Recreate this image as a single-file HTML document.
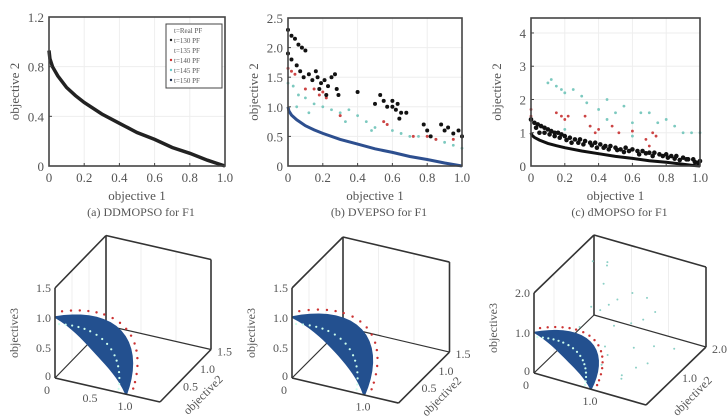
<!DOCTYPE html>
<html><head><meta charset="utf-8">
<style>
html,body{margin:0;padding:0;background:#fff;}
svg{display:block;font-family:"Liberation Serif",serif;}
text{fill:#555;}
</style></head>
<body>
<svg id="fig" width="728" height="417" viewBox="0 0 728 417"></svg>
<script>
// ---- data ----
const pfX=[0,0.005,0.02,0.05,0.1,0.15,0.2,0.3,0.4,0.5,0.6,0.7,0.8,0.9,0.95,1.0];
const pfY=[1,0.93,0.86,0.78,0.68,0.61,0.55,0.45,0.37,0.29,0.23,0.16,0.11,0.05,0.025,0];
const xTicks=["0","0.2","0.4","0.6","0.8","1.0"];
const aYTicks=[0,0.4,0.8,1.2];
const bYTicks=[0,0.5,1.0,1.5,2.0,2.5];
const cYTicks=[0,1,2,3,4];
const bBlackX=[0,0.02,0.04,0.06,0.08,0.1,0,0.02,0.05,0.07,0.09,0.12,0.14,0.16,0.17,0.19,0.21,0.23,0.25,0.27,0.28,0.29,0.4,0.5,0.53,0.55,0.57,0.6,0.62,0.63,0.65,0.64,0.68,0.78,0.8,0.82,0.88,0.9,0.92,0.95,0.98,1.0,0.18,0.22,0.6];
const bBlackY=[2.3,2.2,2.15,2.05,2.0,1.95,1.9,1.8,1.7,1.6,1.5,1.55,1.45,1.6,1.5,1.4,1.45,1.35,1.5,1.55,1.3,1.2,1.25,1.05,1.2,1.1,1.0,1.1,0.95,1.05,0.9,0.8,0.9,0.7,0.6,0.5,0.7,0.6,0.65,0.55,0.6,0.5,1.3,1.2,1.0];
const bRedX=[0,0.02,0.04,0.1,0.15,0.18,0.2,0.22,0.3,0.55,0.57,0.72,0.8,0.85,0.95];
const bRedY=[1.65,1.6,1.55,1.3,1.3,1.2,1.25,1.15,0.85,0.75,0.7,0.5,0.5,0.45,0.45];
const bCyanX=[0,0.03,0.06,0.1,0.15,0.2,0.25,0.3,0.35,0.4,0.45,0.5,0.6,0.65,0.7,0.75,0.85,0.9,0.95,1.0,0.05,0.12,0.33,0.48];
const bCyanY=[1.4,1.35,1.2,1.15,1.05,1.0,0.95,0.9,0.95,0.85,0.75,0.65,0.6,0.55,0.5,0.5,0.45,0.4,0.35,0.3,1.0,0.9,0.75,0.6];
const cCyanX=[0.1,0.12,0.15,0.18,0.2,0.25,0.3,0.33,0.4,0.45,0.5,0.55,0.6,0.65,0.7,0.75,0.8,0.85,0.9,0.95,1.0,0.35,0.45,0.2,0.6];
const cCyanY=[2.5,2.6,2.4,2.3,2.2,2.3,2.1,1.9,1.7,2.0,1.6,1.8,1.3,1.6,1.6,1.3,1.4,1.2,1.0,1.0,1.0,1.2,1.4,1.1,0.9];
const cRedX=[0,0,0.15,0.18,0.2,0.22,0.32,0.35,0.38,0.4,0.48,0.52,0.6,0.68,0.72,0.74,0.7];
const cRedY=[1.7,1.5,1.6,1.5,1.4,1.5,1.5,1.2,1.0,1.1,1.2,1.0,1.05,0.8,1.0,0.9,0.6];
const cBlackX=[0,0.02,0.04,0.06,0.08,0.1,0.12,0.14,0.16,0.18,0.2,0.23,0.26,0.29,0.32,0.35,0.38,0.41,0.44,0.47,0.5,0.53,0.56,0.6,0.63,0.66,0.7,0.73,0.76,0.8,0.83,0.86,0.9,0.93,0.96,1.0,0.05,0.11,0.17,0.24,0.31,0.39,0.46,0.55,0.64,0.72,0.81,0.88,0.97,0.03,0.08,0.14,0.21,0.28,0.36,0.43,0.51,0.58,0.68,0.78,0.85,0.92,0.99];
const cBlackY=[1.4,1.3,1.25,1.2,1.15,1.1,1.05,1.0,1.0,0.95,0.9,0.85,0.8,0.8,0.75,0.7,0.7,0.65,0.6,0.6,0.55,0.5,0.55,0.5,0.45,0.45,0.4,0.4,0.35,0.35,0.3,0.3,0.25,0.2,0.2,0.15,1.0,0.95,0.85,0.7,0.65,0.55,0.5,0.42,0.35,0.3,0.25,0.18,0.12,1.15,1.0,0.9,0.78,0.7,0.62,0.55,0.48,0.45,0.38,0.3,0.22,0.2,0.1];
const redAng=[3,8,13,18,23,28,34,40,46,52,58,63,68,73,78,83,87];
const cCyan3X=[0.6,0.8,1.0,1.2,0.9,1.1,1.3,1.5,0.7,1.4,1.6,1.2,0.5,0.4,0.3,1.7,1.0,1.3,0.8,1.1,0.6,1.5,0.9,1.2,0.7,1.0];
const cCyan3Y=[1.2,1.0,0.8,1.4,1.6,0.4,0.9,1.2,0.6,0.3,0.8,1.8,1.5,1.7,1.4,1.5,1.9,0.5,0.3,0.2,0.4,0.6,1.1,1.0,0.9,0.5];
const cCyan3Z=[1.6,1.3,1.0,0.8,1.2,0.6,0.5,0.4,1.5,0.2,0.3,0.7,1.8,1.7,1.9,0.2,0.9,0.1,0.9,0.5,1.1,0.3,1.4,1.0,1.2,0.7];

const NS='http://www.w3.org/2000/svg';
const svg=document.getElementById('fig');
function el(tag,attrs,parent){const e=document.createElementNS(NS,tag);for(const k in attrs)e.setAttribute(k,attrs[k]);(parent||svg).appendChild(e);return e;}
function txt(s,x,y,size,anchor,parent,rot){const t=el('text',{x:x,y:y,'font-size':size,'text-anchor':anchor||'middle'},parent);if(rot)t.setAttribute('transform','rotate(-90 '+x+' '+y+')');t.textContent=s;return t;}

function panel2d(cfg){
  const g=el('g',{});
  
  
  const sx=v=>cfg.x0+(cfg.x1-cfg.x0)*v;
  const sy=v=>cfg.y1-(cfg.y1-cfg.y0)*v/cfg.ymax;
  for(let i=1;i<5;i++){el('line',{x1:sx(i/5),x2:sx(i/5),y1:cfg.y0,y2:cfg.y1,stroke:'#eee','stroke-width':1},g);}
  cfg.yt.forEach(v=>{el('line',{x1:cfg.x0,x2:cfg.x1,y1:sy(v),y2:sy(v),stroke:'#eee'},g);});
  (cfg.sets||[]).forEach(s=>{for(let i=0;i<s.x.length;i++){const c=el('circle',{cx:sx(s.x[i]),cy:sy(s.y[i]),r:s.r,fill:s.c},g);}});
  const d=pfX.map((v,i)=>(i?'L':'M')+sx(v).toFixed(1)+','+sy(pfY[i]*cfg.pfs).toFixed(1)).join('');
  const p=el('path',{d:d,fill:'none',stroke:cfg.pfc,'stroke-width':cfg.pfw},g);
  
  
  (cfg.after||[]).forEach(s=>{for(let i=0;i<s.x.length;i++){const c=el('circle',{cx:sx(s.x[i]),cy:sy(s.y[i]),r:s.r,fill:s.c},g);}});
  el('rect',{x:cfg.x0,y:cfg.top,width:cfg.x1-cfg.x0,height:cfg.y1-cfg.top,fill:'none',stroke:'#444','stroke-width':1.6},g);
  xTicks.forEach((t,i)=>{const x=sx(i/5);el('line',{x1:x,x2:x,y1:cfg.y1,y2:cfg.y1-3,stroke:'#444'},g);txt(t,x,cfg.y1+16,13,'middle',g);});
  cfg.yt.forEach((v,i)=>{el('line',{x1:cfg.x0,x2:cfg.x0+3,y1:sy(v),y2:sy(v),stroke:'#444'},g);txt(cfg.ytl[i],cfg.x0-5,sy(v)+5,13,'end',g);});
  const xt=txt('objective 1',(cfg.x0+cfg.x1)/2,cfg.y1+34,13,'middle',g);
  const yt=txt('objective 2',cfg.x0-30,(cfg.y0+cfg.y1)/2,13,'middle',g,true);
  const cap=txt(cfg.cap,(cfg.x0+cfg.x1)/2+4,216,12,'middle',g);
  return g;
}
panel2d({name:'panel-a-ddmopso',x0:49,x1:225,y0:17,y1:166,top:17,ymax:1.2,yt:aYTicks,ytl:['0','0.4','0.8','1.2'],pfc:'#222',pfw:3.5,pfs:0.93,cap:'(a)  DDMOPSO for F1'});
const lg=el('g',{});
el('rect',{x:166,y:24,width:56,height:64,fill:'#fff',stroke:'#444','stroke-width':1},lg);
['t=Real PF','t=130 PF','t=135 PF','t=140 PF','t=145 PF','t=150 PF'].forEach((s,i)=>{
  el('circle',{cx:171,cy:30+i*10,r:1.2,fill:['#fff','#222','#fff','#c33','#6cc','#235'][i]},lg);
  const t=txt(s,174,33+i*10,7,'start',lg);
});
panel2d({name:'panel-b-dvepso',x0:288,x1:462,y0:18,y1:166,top:18,ymax:2.5,yt:bYTicks,ytl:['0','0.5','1.0','1.5','2.0','2.5'],pfc:'#2d4f8f',pfw:3,pfs:1.0,cap:'(b)  DVEPSO for F1',
  sets:[{x:bCyanX,y:bCyanY,c:'#7cc9bf',r:1.4,n:'t140-point'},{x:bRedX,y:bRedY,c:'#c44',r:1.5,n:'t135-point'},{x:bBlackX,y:bBlackY,c:'#111',r:2,n:'t130-point'}]});
panel2d({name:'panel-c-dmopso',x0:531,x1:700,y0:18,y1:166,top:18,ymax:4.45,yt:cYTicks,ytl:['0','1','2','3','4'],pfc:'#111',pfw:3,pfs:1.0,cap:'(c)  dMOPSO for F1',
  sets:[{x:cCyanX,y:cCyanY,c:'#7cc9bf',r:1.4,n:'t140-point'},{x:cRedX,y:cRedY,c:'#c44',r:1.4,n:'t135-point'}],
  after:[{x:cBlackX,y:cBlackY,c:'#111',r:2.3,n:'t130-point'}]});

function panel3d(c){
  const g=el('g',{});
  
  
  const P=(x,y,z)=>[c.ox+c.ex[0]*x+c.ey[0]*y,c.oy+c.ex[1]*x+c.ey[1]*y+c.ez*z];
  const L=(a,b,w,col)=>el('line',{x1:a[0],y1:a[1],x2:b[0],y2:b[1],stroke:col||'#333','stroke-width':w||1.6},g);
  const m=c.m;
  for(let i=1;i<3;i++){L(P(0,m*i/3,0),P(0,m*i/3,m),0.6,'#e4e4e4');L(P(m*i/3,m,0),P(m*i/3,m,m),0.6,'#e4e4e4');}
  L(P(0,m,0),P(0,m,m));L(P(0,m,m),P(m,m,m));L(P(m,m,m),P(m,m,0));
  L(P(0,m,0),P(m,m,0),1.2);L(P(0,m,0),P(0,0,0),1.2);
  if(c.cyan){for(let i=0;i<cCyan3X.length;i++){const q=P(cCyan3X[i],cCyan3Y[i],cCyan3Z[i]);const d=el('circle',{cx:q[0],cy:q[1],r:1,fill:'#8cd0c6'},g);}}
  const outer=[],inner=[];
  for(let a=0;a<=90;a+=5){const t=a*Math.PI/180;const s2=Math.sin(2*t);const ro=1.03+c.th*s2;const ri=1-c.in*s2;
    outer.push(P(ro*Math.sin(t),c.k*s2,ro*Math.cos(t)));inner.push(P(ri*Math.sin(t),0,ri*Math.cos(t)));}
  const d='M'+outer.map(p=>p.join(',')).join('L')+'L'+inner.reverse().map(p=>p.join(',')).join('L')+'Z';
  const band=el('path',{d:d,fill:'#23508f'},g);
  
  
  redAng.forEach(a=>{const t=a*Math.PI/180;const s2=Math.sin(2*t);const r=1.07+c.th*s2;const q=P(r*Math.sin(t),c.k*s2+0.05,r*Math.cos(t));const d=el('circle',{cx:q[0],cy:q[1],r:1.2,fill:'#c33'},g);
    const q2=P(0.9*Math.sin(t),c.k*s2*0.5,0.9*Math.cos(t));el('circle',{cx:q2[0],cy:q2[1],r:1.1,fill:'#cfe'},g);});
  L(P(0,0,0),P(0,0,m));L(P(0,0,m),P(0,m,m));L(P(0,0,0),P(m,0,0));L(P(m,0,0),P(m,m,0));
  c.zt.forEach(v=>{const q=P(0,0,v);txt(v.toFixed(1),q[0]-4,q[1]+4,12,'end',g);});
  const z0=P(0,0,0);txt('0',z0[0]-4,z0[1]+2,12,'end',g);
  const zt=txt('objective3',c.ox-37,c.oy-45,12,'middle',g,true);
  txt('0',c.ox-5,c.oy+16,12,'end',g);
  c.xt.forEach(v=>{const q=P(v,0,0);txt(v.toFixed(1),q[0],q[1]+16,12,'middle',g);});
  c.yt.forEach(v=>{const q=P(m,v,0);txt(v.toFixed(1),q[0]+6,q[1]+6,12,'start',g);});
  const yl=P(m,m*0.35,0);const t=txt('objective2',yl[0]+28,yl[1]+14,12,'middle',g);t.setAttribute('transform','rotate(-45 '+(yl[0]+28)+' '+(yl[1]+14)+')');
}
panel3d({name:'panel-d-ddmopso-3d',ox:55,oy:378,ex:[70,16],ey:[34,-35],ez:-60,m:1.5,th:0.04,in:0.2,k:0.4,zt:[0.5,1.0,1.5],xt:[0.5,1.0],yt:[0.5,1.0,1.5]});
panel3d({name:'panel-e-dvepso-3d',ox:292,oy:378,ex:[71,16.7],ey:[34,-34],ez:-60,m:1.5,th:0.06,in:0.15,k:0.45,zt:[0.5,1.0,1.5],xt:[1.0],yt:[0.5,1.0,1.5]});
panel3d({name:'panel-f-dmopso-3d',ox:534,oy:373,ex:[56,16],ey:[30,-29],ez:-40,m:2,th:0.06,in:0.2,k:0.45,cyan:true,zt:[1.0,2.0],xt:[1.0],yt:[1.0,2.0]});
</script>
</body></html>
